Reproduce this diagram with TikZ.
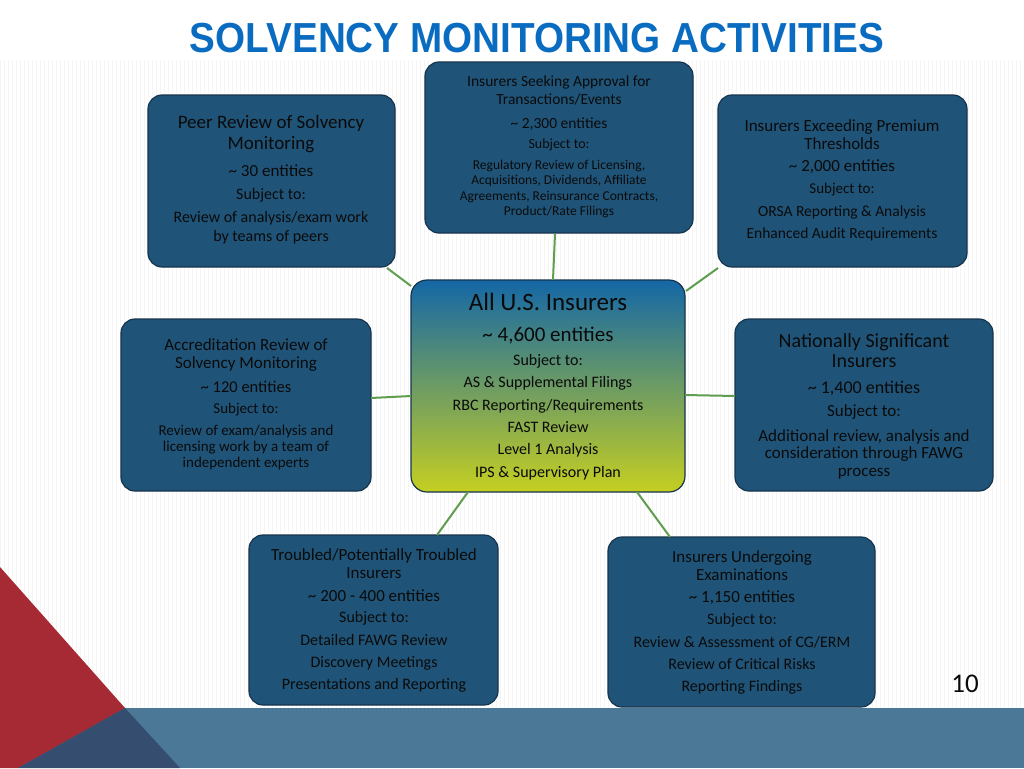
\documentclass[tikz,border=0pt]{standalone}
\usepackage{fontspec}
\setmainfont{Carlito}
\newfontfamily\titlefont{Liberation Sans}
\definecolor{boxblue}{HTML}{1F5478}
\definecolor{edgeblue}{HTML}{16344D}
\definecolor{lgreen}{HTML}{5E9E4E}
\definecolor{titleblue}{HTML}{0A6CC0}
\definecolor{band}{HTML}{4A7896}
\definecolor{redt}{HTML}{A52A33}
\definecolor{navyt}{HTML}{354E70}
\definecolor{ctop}{HTML}{1467A6}
\definecolor{cbot}{HTML}{C5CF22}
\definecolor{txt}{HTML}{0A0A0A}
\begin{document}
\begin{tikzpicture}[x=1pt,y=-1pt,
  bx/.style={draw=edgeblue,line width=1.2pt,fill=boxblue,rounded corners=14pt},
  con/.style={draw=lgreen,line width=2pt},
  tx/.style={align=center,font=\fontsize{14}{17}\selectfont,text=txt}]
\useasboundingbox (0,0) rectangle (1024,768);
\fill[white] (0,0) rectangle (1024,768);
\foreach \i in {0,4,...,1020} \draw[gray!8,line width=0.6pt] (\i,60) -- (\i,708);
\fill[band] (0,708) rectangle (1024,768);
\fill[redt] (0,567) -- (125,708) -- (18,768) -- (0,768) -- cycle;
\fill[navyt] (125,708) -- (18,768) -- (180,768) -- cycle;
\node[font=\titlefont\bfseries\fontsize{42}{44}\selectfont,text=titleblue,xscale=0.92] (title) at (537,38) {SOLVENCY MONITORING ACTIVITIES};
\node[font=\fontsize{27}{28}\selectfont,text=txt] (pg) at (965,684) {10};
% boxes
\path[bx] (425,62) rectangle (693,233);
\coordinate (tc) at (555,233);
\node[tx,font=\fontsize{15.5}{18}\selectfont] at (559,90) {Insurers Seeking Approval for\\Transactions/Events};
\node[tx,font=\fontsize{15.5}{18}\selectfont] at (559,124) {\textasciitilde{} 2,300 entities};
\node[tx,font=\fontsize{14}{16}\selectfont] at (559,145) {Subject to:};
\node[tx,font=\fontsize{13.5}{15.5}\selectfont] at (559,189) {Regulatory Review of Licensing,\\Acquisitions, Dividends, Affiliate\\Agreements, Reinsurance Contracts,\\Product/Rate Filings};
\path[bx] (148,95) rectangle (395,267);
\node[tx,font=\fontsize{19}{21}\selectfont] at (271,134) {Peer Review of Solvency\\Monitoring};
\node[tx,font=\fontsize{17}{18}\selectfont] at (271,171) {\textasciitilde{} 30 entities};
\node[tx,font=\fontsize{16}{18}\selectfont] at (271,195) {Subject to:};
\node[tx,font=\fontsize{16}{19}\selectfont] at (271,228) {Review of analysis/exam work\\by teams of peers};
\path[bx] (718,95) rectangle (967,267);
\node[tx,font=\fontsize{17}{18}\selectfont] at (842,135) {Insurers Exceeding Premium\\Thresholds};
\node[tx,font=\fontsize{17}{18}\selectfont] at (842,167) {\textasciitilde{} 2,000 entities};
\node[tx,font=\fontsize{15}{17}\selectfont] at (842,190) {Subject to:};
\node[tx,font=\fontsize{15.5}{22}\selectfont] at (842,223) {ORSA Reporting \& Analysis\\Enhanced Audit Requirements};
\shade[top color=ctop,bottom color=cbot,draw=edgeblue,line width=1.2pt,rounded corners=16pt] (411,280) rectangle (685,492);
\node[tx,font=\fontsize{25}{26}\selectfont] at (548,302) {All U.S. Insurers};
\node[tx,font=\fontsize{21}{22}\selectfont] at (548,336) {\textasciitilde{} 4,600 entities};
\node[tx,font=\fontsize{16}{22.3}\selectfont] at (548,417) {Subject to:\\AS \& Supplemental Filings\\RBC Reporting/Requirements\\FAST Review\\Level 1 Analysis\\IPS \& Supervisory Plan};
\path[bx] (121,319) rectangle (371,491);
\node[tx,font=\fontsize{17}{18}\selectfont] at (246,355) {Accreditation Review of\\Solvency Monitoring};
\node[tx,font=\fontsize{16.5}{18}\selectfont] at (246,387) {\textasciitilde{} 120 entities};
\node[tx,font=\fontsize{15}{17}\selectfont] at (246,410) {Subject to:};
\node[tx,font=\fontsize{15}{16}\selectfont] at (246,447) {Review of exam/analysis and\\licensing work by a team of\\independent experts};
\path[bx] (735,319) rectangle (993,491);
\node[tx,font=\fontsize{20}{20}\selectfont] at (864,351) {Nationally Significant\\Insurers};
\node[tx,font=\fontsize{18}{20}\selectfont] at (864,388) {\textasciitilde{} 1,400 entities};
\node[tx,font=\fontsize{17}{18}\selectfont] at (864,412) {Subject to:};
\node[tx,font=\fontsize{17}{17.5}\selectfont] at (864,454) {Additional review, analysis and\\consideration through FAWG\\process};
\path[bx] (249,535) rectangle (498,705);
\node[tx,font=\fontsize{17}{18}\selectfont] at (374,564) {Troubled/Potentially Troubled\\Insurers};
\node[tx,font=\fontsize{17}{18}\selectfont] at (374,596) {\textasciitilde{} 200 - 400 entities};
\node[tx,font=\fontsize{16}{22.3}\selectfont] at (374,652) {Subject to:\\Detailed FAWG Review\\Discovery Meetings\\Presentations and Reporting};
\path[bx] (608,537) rectangle (875,707);
\node[tx,font=\fontsize{17}{18}\selectfont] at (742,566) {Insurers Undergoing\\Examinations};
\node[tx,font=\fontsize{17}{18}\selectfont] at (742,598) {\textasciitilde{} 1,150 entities};
\node[tx,font=\fontsize{16}{22.3}\selectfont] at (742,654) {Subject to:\\Review \& Assessment of CG/ERM\\Review of Critical Risks\\Reporting Findings};
% connectors
\coordinate (a1) at (387,268); \coordinate (b1) at (411,286);
\coordinate (a2) at (555,234); \coordinate (b2) at (553,280);
\coordinate (a3) at (718,268); \coordinate (b3) at (686,291);
\coordinate (a4) at (371,398); \coordinate (b4) at (411,396);
\coordinate (a5) at (735,396); \coordinate (b5) at (685,395);
\coordinate (a6) at (437,535); \coordinate (b6) at (468,492);
\coordinate (a7) at (670,537); \coordinate (b7) at (637,492);
\foreach \k in {1,...,7} \draw[con] (a\k) -- (b\k);
\end{tikzpicture}
\end{document}
